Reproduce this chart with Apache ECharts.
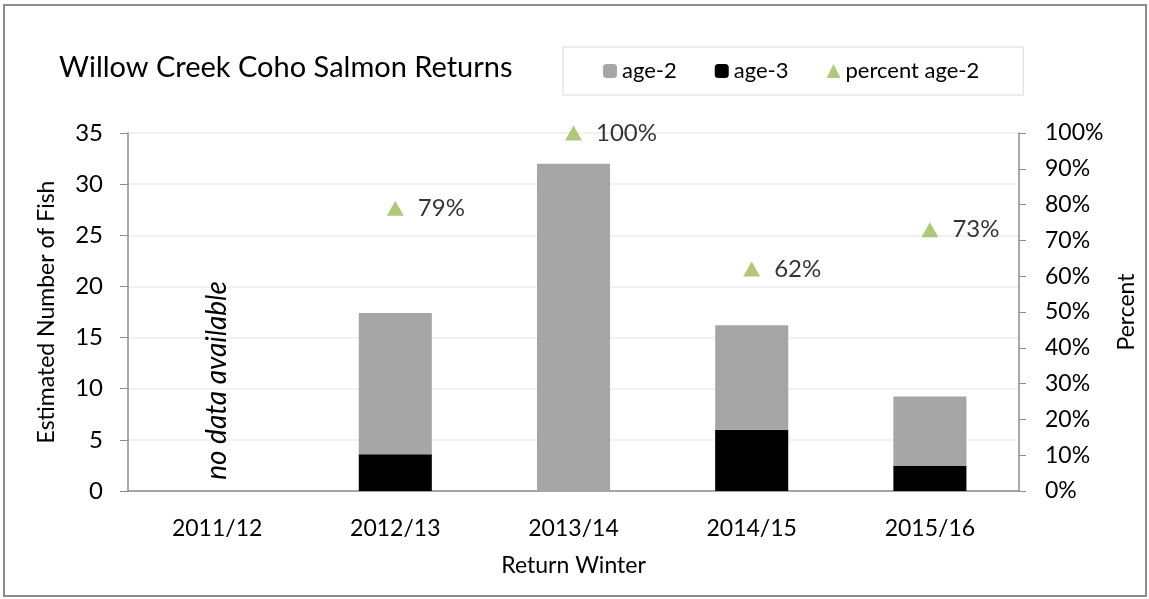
<!DOCTYPE html>
<html>
<head>
    <meta charset="utf-8">
    <title>Willow Creek Coho Salmon Returns</title>
    <script src="https://cdn.jsdelivr.net/npm/echarts@6/dist/echarts.min.js"></script>
</head>
<style>
    *{
        padding: 0;
        margin: 0;
    }
    #main {
        width: 1149px;
        height: 599px;
        position: absolute
    }
</style>
<body>
    <div id="main"></div>
    <script type="text/javascript">
    var winters = ['2011/12', '2012/13', '2013/14', '2014/15', '2015/16'];
    var age2 = [null, 13.8, 32, 10.2, 6.8];
    var age3 = [null, 3.6, 0, 6.0, 2.45];
    var pctAge2 = [null, 79, 100, 62, 73];
    var noDataNote = 'no data available';

    var font = 'Lato';
    var myChart = echarts.init(document.getElementById('main'));
    var option = {
        backgroundColor: '#fff',
        textStyle: { fontFamily: font },
        animation: false,
        title: {
            text: 'Willow Creek Coho Salmon Returns',
            left: 54,
            top: 48,
            textStyle: { fontFamily: font, fontSize: 29, fontWeight: 'normal', color: '#000' }
        },
        legend: {
            data: ['age-2', 'age-3', 'percent age-2'],
            left: 563,
            top: 47,
            padding: [13, 44, 13, 40],
            borderColor: '#d9d9d9',
            borderWidth: 1,
            itemWidth: 14,
            itemHeight: 14,
            itemGap: 38,
            textStyle: { fontFamily: font, fontSize: 22, color: '#000' }
        },
        grid: { left: 128, right: 130, top: 133, bottom: 108 },
        xAxis: {
            type: 'category',
            data: winters,
            name: 'Return Winter',
            nameLocation: 'middle',
            nameGap: 63,
            nameTextStyle: { fontSize: 23, color: '#000' },
            axisLine: { lineStyle: { color: '#8c8c8c', width: 1.5 } },
            axisTick: { length: 7, lineStyle: { color: '#8c8c8c' } },
            axisLabel: { fontSize: 23, color: '#000', margin: 26 }
        },
        yAxis: [{
            type: 'value',
            min: 0,
            max: 35,
            interval: 5,
            name: 'Estimated Number of Fish',
            nameLocation: 'middle',
            nameGap: 70,
            nameTextStyle: { fontSize: 23, color: '#000' },
            axisLine: { show: true, lineStyle: { color: '#8c8c8c', width: 1.5 } },
            axisTick: { show: true, length: 8, lineStyle: { color: '#8c8c8c' } },
            axisLabel: { fontSize: 24, color: '#000', margin: 25 },
            splitLine: { lineStyle: { color: '#ececec', width: 1.5 } }
        }, {
            type: 'value',
            min: 0,
            max: 100,
            interval: 10,
            name: 'Percent',
            nameLocation: 'middle',
            nameGap: 96,
            nameRotate: 90,
            nameTextStyle: { fontSize: 23, color: '#000' },
            axisLine: { show: true, lineStyle: { color: '#8c8c8c', width: 1.5 } },
            axisTick: { show: true, length: 7, lineStyle: { color: '#8c8c8c' } },
            axisLabel: { fontSize: 23, color: '#000', margin: 26, formatter: '{value}%' },
            splitLine: { show: false }
        }],
        series: [{
            name: 'age-3',
            type: 'bar',
            stack: 'fish',
            data: age3,
            barWidth: '41%',
            itemStyle: { color: '#000' }
        }, {
            name: 'age-2',
            type: 'bar',
            stack: 'fish',
            data: age2,
            barWidth: '41%',
            itemStyle: { color: '#a6a6a6' }
        }, {
            name: 'percent age-2',
            type: 'scatter',
            yAxisIndex: 1,
            data: pctAge2,
            symbol: 'triangle',
            symbolSize: [17, 15],
            itemStyle: { color: '#9bbb59' },
            label: {
                show: true,
                position: 'right',
                distance: 14,
                formatter: '{c}%',
                fontSize: 24,
                color: '#000'
            }
        }]
    };
    myChart.setOption(option);

    // annotation for the missing first winter, border round the whole chart
    var notePos = myChart.convertToPixel({ xAxisIndex: 0, yAxisIndex: 0 }, [winters[0], 10.8]);
    myChart.setOption({
        graphic: [{
            type: 'text',
            x: notePos[0],
            y: notePos[1],
            rotation: Math.PI / 2,
            style: {
                text: noDataNote,
                font: 'italic 28px ' + font,
                fill: '#000',
                align: 'center',
                verticalAlign: 'middle'
            }
        }, {
            type: 'rect',
            shape: { x: 4, y: 5, width: 1142, height: 591 },
            style: { fill: 'none', stroke: '#8c8c8c', lineWidth: 2 },
            silent: true
        }]
    });
    </script>
</body>
</html>
